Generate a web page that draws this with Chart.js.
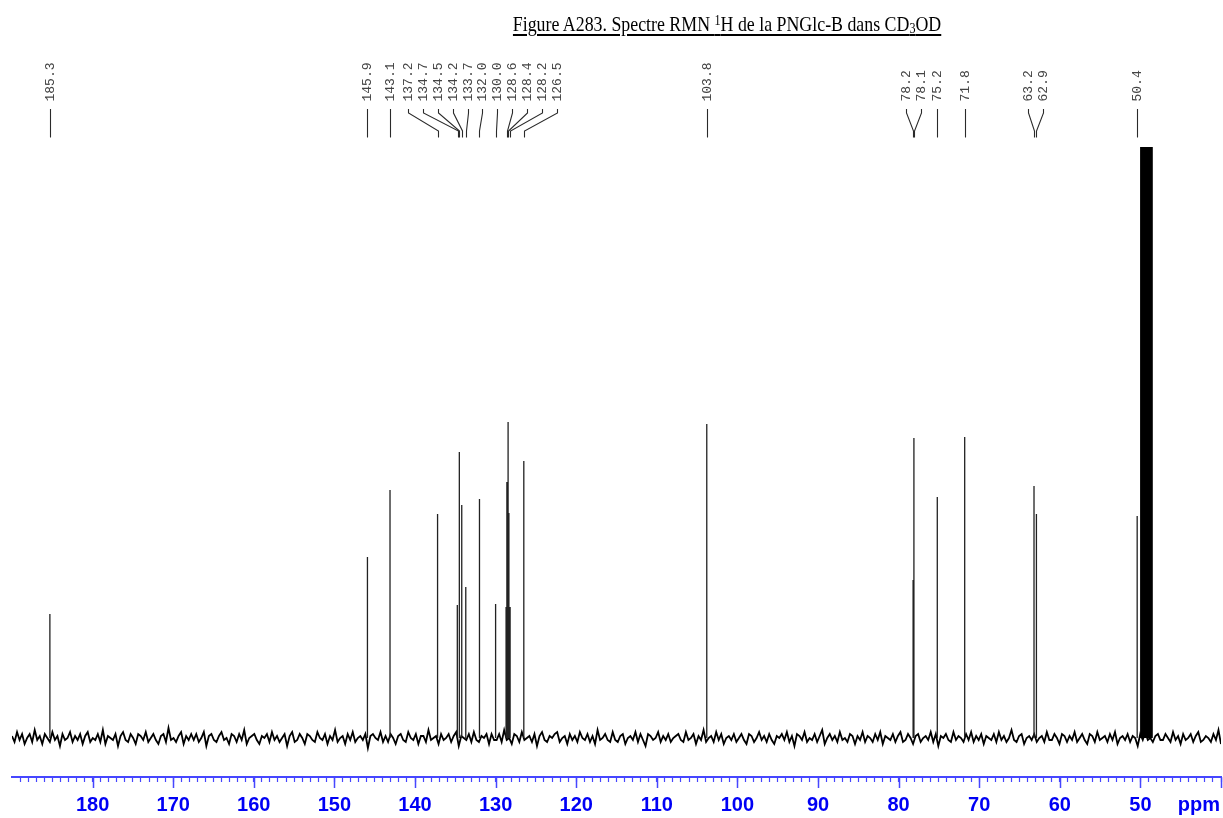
<!DOCTYPE html>
<html><head><meta charset="utf-8">
<script src="https://cdn.jsdelivr.net/npm/chart.js@4.4.0/dist/chart.umd.min.js"></script>
<style>
html,body{margin:0;padding:0;background:#fff;width:1223px;height:818px;overflow:hidden}
#wrap{position:relative;width:1223px;height:818px}
canvas{position:absolute;left:0;top:0}
#title{position:absolute;left:727px;top:10px;transform:translateX(-50%) scaleX(0.83);font-family:"Liberation Serif","DejaVu Serif",serif;font-size:21.5px;color:#000;white-space:nowrap;line-height:28px}
#title span{text-decoration:underline;text-underline-offset:3px}
#title sup{font-size:0.68em;vertical-align:0.42em;line-height:0}
#title sub{font-size:0.68em;vertical-align:-0.12em;line-height:0}
</style></head><body>
<div id="wrap">
<canvas id="c" width="1223" height="818"></canvas>
<div id="title"><span>Figure A283. Spectre RMN <sup>1</sup>H de la PNGlc-B dans CD<sub>3</sub>OD</span></div>
</div>
<script>
// ---- data ----
const peakPpm = [185.3,145.9,143.1,137.2,134.75,134.5,134.2,133.7,132.0,130.0,128.7,128.6,128.45,128.35,128.2,126.5,103.8,78.2,78.1,75.2,71.8,63.2,62.9,50.4];
const peakInt = [124,181,248,224,133,286,233,151,239,134,131,256,316,225,131,277,314,158,300,241,301,252,224,222];
const solventPpm = [49.89,49.68,49.46,49.25,49.04,48.82,48.61];
const solventInt = [1000,3000,6000,7000,6000,3000,1000];
const peakLabels = ['185.3','145.9','143.1','137.2','134.7','134.5','134.2','133.7','132.0','130.0','128.6','128.4','128.2','126.5','103.8','78.2','78.1','75.2','71.8','63.2','62.9','50.4'];
const tickLabels = [180,170,160,150,140,130,120,110,100,90,80,70,60,50];
const noise = [
1,-2,3,-1,2,-3,0,2,-2,4,-1,1,-3,2,0,-2,3,-1,1,-4,2,-1,0,3,
-2,1,-1,2,-3,1,3,-2,0,-1,2,-2,4,-3,1,0,-1,2,-4,1,3,-1,-2,2,
0,-3,2,1,-1,3,-2,0,2,-1,-3,1,2,-2,5,-1,0,-2,1,3,-3,1,-1,2,
-1,2,-2,0,3,-4,1,2,-1,-2,1,3,-1,0,-3,2,1,-2,2,-1,4,-3,0,1,
2,-1,-3,1,0,2,-2,3,-1,1,-2,0,2,-4,1,3,-2,-1,2,0,-3,2,1,-1,
-2,3,0,-1,2,-3,1,-1,4,-2,0,1,-3,2,-1,3,-2,0,1,-1,2,-5,1,2,
0,-1,3,-2,1,-2,2,0,-3,1,2,-1,-2,3,0,-1,2,-3,1,1,-2,4,-1,0,
1,-3,2,-1,0,2,-2,1,3,-4,1,0,-1,2,-2,3,-1,-2,1,0,2,-3,2,-1,
-1,2,-2,4,-1,0,-3,2,1,-2,3,-1,0,1,-2,2,-4,1,3,-1,-2,1,0,2,
3,-2,0,1,-3,2,-1,1,-2,3,0,-1,2,-2,1,-3,4,-1,0,2,-1,-2,3,-1,
-2,1,2,-3,0,1,-1,3,-2,2,-1,-4,2,1,-1,0,3,-2,1,-1,2,-2,0,1,
2,-1,-2,3,-1,0,2,-3,1,-1,4,-2,0,1,-2,3,-1,2,-3,0,1,-1,2,-2,
0,2,-1,-3,2,1,-2,0,3,-1,1,-2,2,-1,-3,1,0,2,-1,3,-2,1,-4,2,
1,-1,3,-2,0,-1,2,-2,1,4,-3,0,2,-1,1,-2,3,-1,0,-2,2,1,-3,1,
-1,3,-2,1,0,-2,2,-1,3,-3,1,0,-1,2,-2,1,3,-2,-1,2,0,-3,1,2,
-2,0,1,-1,3,-2,2,-4,1,0,2,-1,-2,3,-1,1,0,-2,2,-1,3,-2,1,-1,
2,-3,1,0,-1,2,-2,3,-1,1,-2,0,4,-1,-2,1,2,-3,0,1,-1,2,-2,0,
1,-2,3,-1,-1,2,0,-3,2,1,-2,1,-1,3,-2,0,2,-1,-3,2,1,-2,3,-1,
0,1,-2,2,-1,3,-3,0,1,-1,2,-2,1,0,-4,2,-1,3,-1,0,-2,1,2,-1,
-1,2,0,-2,3,-1,1,-3,2,-1,0,2,-2,1,3,-2,-1,1,0,-2,2,-1,4,-3
];

// ---- styles ----
const AXIS_COLOR = '#4646ff';
const LABEL_COLOR = '#0000f5';

// each peak drawn as a vertical stick from the baseline
function sticks(ppm, inten) {
  const pts = [];
  ppm.forEach((p, i) => { pts.push({x: p, y: 0}, {x: p, y: inten[i]}, {x: p, y: 0}, {x: p, y: null}); });
  return pts;
}
const stickPts = sticks(peakPpm, peakInt);
const solventPts = sticks(solventPpm, solventInt);
const noisePts = noise.map((v, i) => ({x: i, y: v}));

const annot = {
  id: 'annot',
  afterDraw(chart) {
    const ctx = chart.ctx, xs = chart.scales.x, area = chart.chartArea;
    ctx.save();
    ctx.strokeStyle = AXIS_COLOR; ctx.lineWidth = 1.5;
    tickLabels.concat([40]).forEach(v => {
      const px = Math.round(xs.getPixelForValue(v)) + 0.5;
      ctx.beginPath(); ctx.moveTo(px, area.bottom); ctx.lineTo(px, area.bottom + 11); ctx.stroke();
    });
    ctx.fillStyle = LABEL_COLOR;
    ctx.font = 'bold 20px "Liberation Sans", Arial, sans-serif';
    ctx.textAlign = 'right'; ctx.textBaseline = 'alphabetic';
    ctx.fillText('ppm', area.right - 1, 811);

    const gap = 14.9;
    const items = peakLabels.map(t => ({t, px: xs.getPixelForValue(parseFloat(t))})).sort((a, b) => a.px - b.px);
    let groups = items.map(it => ({items: [it]}));
    const center = g => g.items.reduce((s, i) => s + i.px, 0) / g.items.length;
    const edges = g => ({l: center(g) - g.items.length * gap / 2, r: center(g) + g.items.length * gap / 2});
    let changed = true;
    while (changed) {
      changed = false;
      for (let i = 0; i < groups.length - 1; i++) {
        if (edges(groups[i + 1]).l < edges(groups[i]).r) {
          groups[i].items = groups[i].items.concat(groups[i + 1].items);
          groups.splice(i + 1, 1); changed = true; break;
        }
      }
    }
    groups.forEach(g => {
      const c = center(g), n = g.items.length;
      g.items.forEach((it, k) => { it.lx = c + (k - (n - 1) / 2) * gap; });
    });
    ctx.font = '13px "Liberation Mono", "DejaVu Sans Mono", monospace';
    ctx.fillStyle = '#444';
    ctx.strokeStyle = '#2a2a2a'; ctx.lineWidth = 1.1;
    items.forEach(it => {
      const lx = Math.round(it.lx) + 0.5, px = Math.round(it.px) + 0.5;
      ctx.save();
      ctx.translate(lx + 0.5, 101.5); ctx.rotate(-Math.PI / 2);
      ctx.textAlign = 'left'; ctx.textBaseline = 'middle';
      ctx.fillText(it.t, 0, 0);
      ctx.restore();
      ctx.beginPath();
      ctx.moveTo(lx, 109); ctx.lineTo(lx, 113); ctx.lineTo(px, 131); ctx.lineTo(px, 137.5);
      ctx.stroke();
    });
    ctx.restore();
  }
};

new Chart(document.getElementById('c'), {
  type: 'scatter',
  data: {
    datasets: [
      {data: stickPts, xAxisID: 'x', yAxisID: 'y', showLine: true, spanGaps: false, borderColor: '#222', borderWidth: 1.3, pointRadius: 0, borderJoinStyle: 'bevel', tension: 0},
      {data: solventPts, xAxisID: 'x', yAxisID: 'y', showLine: true, spanGaps: false, borderColor: '#000', borderWidth: 2.4, pointRadius: 0, borderJoinStyle: 'bevel', tension: 0},
      {data: noisePts, xAxisID: 'xn', yAxisID: 'yn', showLine: true, borderColor: '#000', borderWidth: 1.8, pointRadius: 0, tension: 0}
    ]
  },
  options: {
    responsive: false, animation: false, devicePixelRatio: 1,
    layout: {padding: {left: 12, right: 2, top: 147, bottom: 0}},
    plugins: {legend: {display: false}, tooltip: {enabled: false}, title: {display: false}},
    scales: {
      x: {
        type: 'linear', axis: 'x', position: 'bottom', reverse: true, min: 40, max: 190,
        border: {display: true, color: AXIS_COLOR, width: 2},
        grid: {display: true, drawOnChartArea: false, drawTicks: true, tickLength: 5, tickWidth: 1.2,
               tickColor: c => (c.tick && c.tick.value === 190) ? 'rgba(0,0,0,0)' : AXIS_COLOR},
        ticks: {stepSize: 1, autoSkip: false, maxRotation: 0, minRotation: 0, padding: 11,
                color: LABEL_COLOR, font: {family: 'Liberation Sans', size: 20, weight: 'bold'},
                callback: v => tickLabels.includes(v) ? String(v) : ''},
        afterFit: s => { s.height = 41; s.paddingLeft = 0; s.paddingRight = 0; }
      },
      xn: {type: 'linear', axis: 'x', position: 'bottom', display: false, min: 0, max: noise.length - 1},
      y: {type: 'linear', axis: 'y', display: false, min: -39, max: 591},
      yn: {type: 'linear', axis: 'y', display: false, min: -19.5, max: 295.5}
    }
  },
  plugins: [annot]
});
</script>
</body></html>
